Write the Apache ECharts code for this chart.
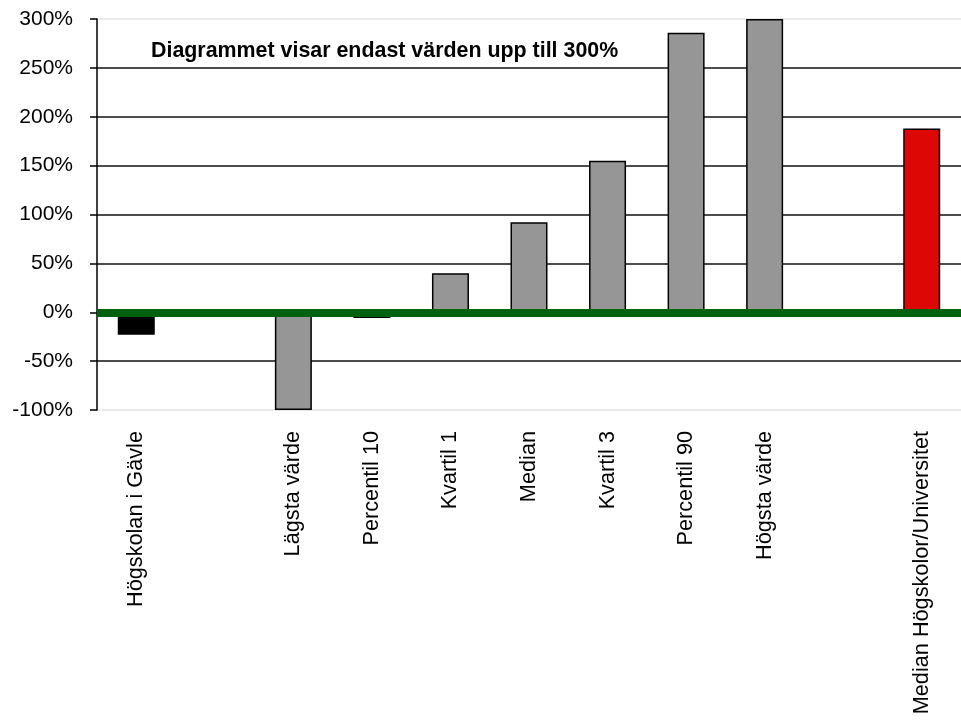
<!DOCTYPE html>
<html>
<head>
<meta charset="utf-8">
<script src="https://cdn.jsdelivr.net/npm/echarts@6/dist/echarts.min.js"></script>
<style>
html,body{margin:0;padding:0;background:#fff;}
#chart{width:961px;height:721px;}
</style>
</head>
<body>
<div id="chart"></div>
<script>
var categories = ['Högskolan i Gävle', ' ', 'Lägsta värde', 'Percentil 10', 'Kvartil 1', 'Median', 'Kvartil 3', 'Percentil 90', 'Högsta värde', '  ', 'Median Högskolor/Universitet'];
var values = [-23, null, -100, -6, 40, 92, 155, 286, 300, null, 188];
var yTicks = [-100, -50, 0, 50, 100, 150, 200, 250, 300];
var note = 'Diagrammet visar endast värden upp till 300%';

var FONT = 'Liberation Sans, Arial, sans-serif';
function barColor(i) {
  if (i === 0) return '#000000';
  if (i === categories.length - 1) return '#dd0806';
  return '#969696';
}
var gridColors = yTicks.map(function (t, i) {
  return (i === 0 || i === yTicks.length - 1) ? '#e3e3e3' : '#111111';
});

var chart = echarts.init(document.getElementById('chart'), null, {renderer: 'canvas'});
chart.setOption({
  animation: false,
  backgroundColor: '#ffffff',
  grid: {left: 97, right: 0, top: 19, bottom: 311, containLabel: false},
  xAxis: {
    type: 'category',
    data: categories,
    axisLine: {show: false, onZero: false},
    axisTick: {show: false},
    axisLabel: {
      rotate: 90, interval: 0, margin: 21,
      fontFamily: FONT, fontSize: 21.7, color: '#000'
    },
    splitLine: {show: false}
  },
  yAxis: {
    type: 'value',
    min: yTicks[0], max: yTicks[yTicks.length - 1], interval: 50,
    axisLine: {show: true, lineStyle: {color: '#000', width: 1.5}},
    axisTick: {show: true, length: 7, lineStyle: {color: '#000', width: 1.5}},
    axisLabel: {
      margin: 24, fontFamily: FONT, fontSize: 21, color: '#000',
      formatter: function (v) { return v + '%'; }
    },
    splitLine: {show: true, lineStyle: {color: gridColors, width: 1.5}}
  },
  graphic: [{
    type: 'text',
    left: 151, top: 41,
    style: {
      text: note, fontFamily: FONT, fontSize: 21.4, fontWeight: 'bold',
      fill: '#000', verticalAlign: 'middle'
    }
  }],
  series: [{
    type: 'bar',
    data: values,
    barWidth: 37,
    clip: true,
    itemStyle: {
      color: function (p) { return barColor(p.dataIndex); },
      borderColor: '#000', borderWidth: 1.5
    },
    markLine: {
      silent: true,
      symbol: ['none', 'none'],
      label: {show: false},
      lineStyle: {color: '#00620f', width: 8, type: 'solid'},
      data: [{yAxis: 0}]
    }
  }]
});
</script>
</body>
</html>
